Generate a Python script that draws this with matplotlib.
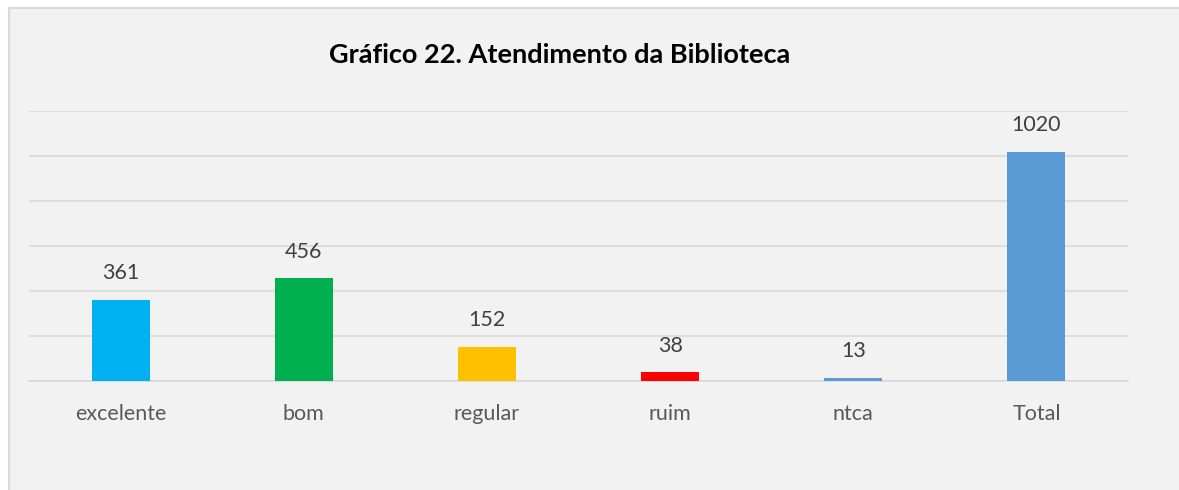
import matplotlib
matplotlib.use("Agg")
import matplotlib.pyplot as plt
from matplotlib.patches import Rectangle

categories = ["excelente", "bom", "regular", "ruim", "ntca", "Total"]
values = [361, 456, 152, 38, 13, 1020]
colors = ["#00B0F0", "#00B050", "#FFC000", "#FF0000", "#5B9BD5", "#5B9BD5"]
title = "Gráfico 22. Atendimento da Biblioteca"

W, H = 1179, 490
fig = plt.figure(figsize=(W / 100, H / 100), dpi=100)
fig.patch.set_facecolor("white")
fig.patches.append(Rectangle((9 / W, -0.01), 1.02, (H - 8) / H + 0.01, transform=fig.transFigure,
                             facecolor="#F2F2F2", edgecolor="#D9D9D9", linewidth=1.5, zorder=-5))

ax = fig.add_axes([29 / W, (H - 381) / H, (1128 - 29) / W, (381 - 111) / H])
ax.set_facecolor("none")
x = list(range(len(categories)))
ax.bar(x, values, width=0.317, color=colors, zorder=3)
ax.set_xlim(-0.5, len(categories) - 0.5)
ax.set_ylim(0, 1200)
ax.set_yticks(range(0, 1201, 200))
ax.yaxis.grid(True, color="#D9D9D9", linewidth=1.2)
ax.tick_params(axis="y", left=False, labelleft=False)
ax.tick_params(axis="x", bottom=False, pad=13)
ax.set_xticks(x)
ax.set_xticklabels(categories, fontsize=15.5, color="#595959", family="Lato")
for s in ["top", "right", "left"]:
    ax.spines[s].set_visible(False)
ax.spines["bottom"].set_color("#D9D9D9")
ax.spines["bottom"].set_linewidth(1.2)

for xi, v in zip(x, values):
    ax.annotate(str(v), (xi, v), xytext=(0, 12), textcoords="offset points",
                ha="center", va="bottom", fontsize=15.5, color="#404040", family="Lato")

fig.text(559.5 / W, (H - 55) / H, title, ha="center", va="center", fontsize=19.5,
         fontweight="bold", color="black", family="Lato")

fig.savefig("out.png", dpi=100)
